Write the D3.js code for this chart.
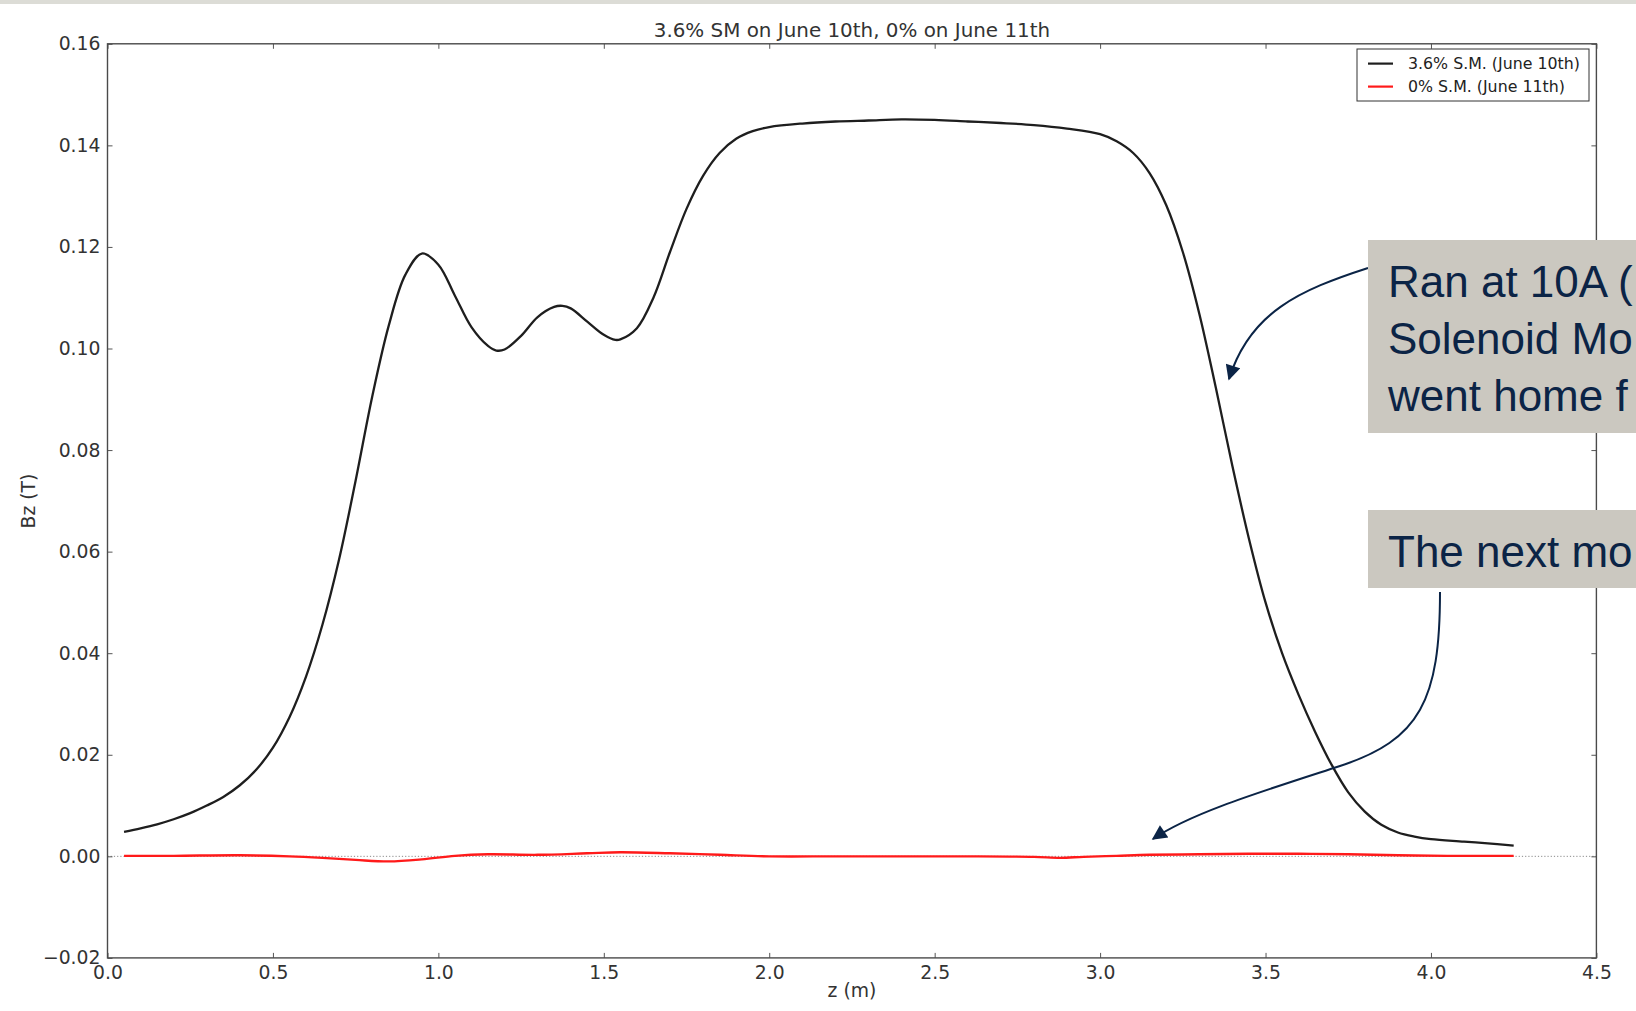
<!DOCTYPE html>
<html>
<head>
<meta charset="utf-8">
<script src="https://cdn.jsdelivr.net/npm/d3@7"></script>
<style>
  html, body { margin: 0; padding: 0; background: #ffffff; overflow: hidden; }
  svg { display: block; }
</style>
</head>
<body>
<svg id="chart" width="1636" height="1011"></svg>
<script>
// Axial field Bz along the solenoid, two runs
const titleText = "3.6% SM on June 10th, 0% on June 11th";
const seriesNames = ["3.6% S.M. (June 10th)", "0% S.M. (June 11th)"];
const xTicks = [0, 0.5, 1.0, 1.5, 2.0, 2.5, 3.0, 3.5, 4.0, 4.5];
const yTicks = [-0.02, 0, 0.02, 0.04, 0.06, 0.08, 0.10, 0.12, 0.14, 0.16];

// 3.6% solenoid-mode run (June 10th)
const zRun1 = [0.05, 0.10, 0.15, 0.20, 0.25, 0.30, 0.35, 0.40, 0.45, 0.50, 0.55, 0.60, 0.65, 0.70, 0.75, 0.80, 0.85, 0.90, 0.95,
  1.00, 1.05, 1.10, 1.15, 1.175, 1.20, 1.25, 1.30, 1.35, 1.375, 1.40, 1.45, 1.50, 1.535, 1.55, 1.60, 1.65, 1.70,
  1.75, 1.80, 1.85, 1.90, 1.95, 2.00, 2.10, 2.20, 2.30, 2.40, 2.50, 2.60, 2.70, 2.80, 2.90, 3.00,
  3.05, 3.10, 3.15, 3.20, 3.25, 3.30, 3.35, 3.40, 3.45, 3.50, 3.55, 3.60, 3.65, 3.70, 3.75, 3.80, 3.85,
  3.90, 3.95, 4.00, 4.10, 4.20, 4.25];
const bzRun1 = [0.0048, 0.0055, 0.0063, 0.0073, 0.0085, 0.0100, 0.0117, 0.0140, 0.0171, 0.0214, 0.0274, 0.0354, 0.0457, 0.0585, 0.0740, 0.0905, 0.1045, 0.1145, 0.1187,
  0.1165, 0.1104, 0.1042, 0.1005, 0.0996, 0.0998, 0.1025, 0.1062, 0.1082, 0.1084, 0.1079, 0.1053, 0.1027, 0.1017, 0.1018, 0.1040, 0.1100, 0.1190,
  0.1275, 0.1340, 0.1385, 0.1413, 0.1428, 0.1436, 0.1443, 0.1447, 0.1449, 0.1451, 0.1450, 0.1447, 0.1444, 0.1440, 0.1433, 0.1422,
  0.1408, 0.1385, 0.1345, 0.1282, 0.1190, 0.1068, 0.0922, 0.0768, 0.0625, 0.0500, 0.0400, 0.0318, 0.0245, 0.0180, 0.0126, 0.0088, 0.0062,
  0.0047, 0.0039, 0.0034, 0.0029, 0.0024, 0.0021];

// 0% solenoid-mode run (June 11th)
const zRun2 = [0.05, 0.20, 0.40, 0.55, 0.65, 0.75, 0.85, 0.95, 1.05, 1.15, 1.30, 1.45, 1.55, 1.70, 1.85, 2.00,
  2.20, 2.40, 2.60, 2.80, 2.88, 2.95, 3.05, 3.15, 3.30, 3.45, 3.60, 3.75, 3.90, 4.05, 4.25];
const bzRun2 = [0.0001, 0.0001, 0.0002, 0.0000, -0.0003, -0.0007, -0.0010, -0.0006, 0.0001, 0.0004, 0.0003, 0.0006, 0.0008, 0.0006, 0.0003, 0.0000,
  0.0000, 0.0000, 0.0000, -0.0001, -0.0003, -0.0001, 0.0001, 0.0003, 0.0004, 0.0005, 0.0005, 0.0004, 0.0002, 0.0001, 0.0001];

const calloutTop = ["Ran at 10A (", "Solenoid Mo", "went home f"];
const calloutBottom = ["The next mo"];

const svg = d3.select("#chart");
const W = 1636, H = 1011;
const plot = { left: 107.5, right: 1596.4, top: 43.8, bottom: 957.9 };
const tickFont = "'DejaVu Sans', sans-serif";
const navy = "#0b2446";

svg.append("rect").attr("width", W).attr("height", H).attr("fill", "#ffffff");
svg.append("rect").attr("x", 0).attr("y", 0).attr("width", W).attr("height", 4).attr("fill", "#dcdcd6");

const x = d3.scaleLinear().domain([0, 4.5]).range([plot.left, plot.right]);
const y = d3.scaleLinear().domain([-0.02, 0.16]).range([plot.bottom, plot.top]);

const fmtY = d3.format(".2f");
const fmtX = d3.format(".1f");

// zero reference line
svg.append("line")
  .attr("x1", x(0)).attr("x2", x(4.5))
  .attr("y1", y(0)).attr("y2", y(0))
  .attr("stroke", "#8a8a8a").attr("stroke-width", 1)
  .attr("stroke-dasharray", "1.2,2");

// curves
const line = d3.line().x(d => x(d[0])).y(d => y(d[1])).curve(d3.curveCatmullRom.alpha(0.5));
svg.append("path")
  .datum(zRun2.map((z, i) => [z, bzRun2[i]]))
  .attr("d", line).attr("fill", "none")
  .attr("stroke", "#ff1a1a").attr("stroke-width", 2.4).attr("stroke-linejoin", "round");
svg.append("path")
  .datum(zRun1.map((z, i) => [z, bzRun1[i]]))
  .attr("d", line).attr("fill", "none")
  .attr("stroke", "#1e1e1e").attr("stroke-width", 2.3).attr("stroke-linejoin", "round");

// axes with inward ticks on all four sides
const tickLen = 5;
const gx = svg.append("g").attr("transform", `translate(0,${plot.bottom})`)
  .call(d3.axisBottom(x).tickValues(xTicks).tickFormat(fmtX).tickSizeInner(-tickLen).tickSizeOuter(0).tickPadding(7));
const gy = svg.append("g").attr("transform", `translate(${plot.left},0)`)
  .call(d3.axisLeft(y).tickValues(yTicks).tickFormat(fmtY).tickSizeInner(-tickLen).tickSizeOuter(0).tickPadding(7));
const gt = svg.append("g").attr("transform", `translate(0,${plot.top})`)
  .call(d3.axisTop(x).tickValues(xTicks).tickFormat("").tickSizeInner(-tickLen).tickSizeOuter(0));
const gr = svg.append("g").attr("transform", `translate(${plot.right},0)`)
  .call(d3.axisRight(y).tickValues(yTicks).tickFormat("").tickSizeInner(-tickLen).tickSizeOuter(0));

[gx, gy, gt, gr].forEach(g => {
  g.select(".domain").remove();
  g.selectAll(".tick line").attr("stroke", "#555").attr("stroke-width", 1);
  g.selectAll("text").attr("font-family", tickFont).attr("font-size", 18.8).attr("fill", "#333");
});
gx.selectAll(".tick text").attr("dy", "0.75em");

// plot frame
svg.append("rect")
  .attr("x", plot.left).attr("y", plot.top)
  .attr("width", plot.right - plot.left).attr("height", plot.bottom - plot.top)
  .attr("fill", "none").attr("stroke", "#4a4a4a").attr("stroke-width", 1.4);

// title and axis labels
svg.append("text").attr("x", (plot.left + plot.right) / 2).attr("y", 37)
  .attr("text-anchor", "middle").attr("font-family", tickFont).attr("font-size", 19.9).attr("fill", "#333")
  .text(titleText);
svg.append("text").attr("x", (plot.left + plot.right) / 2).attr("y", 997)
  .attr("text-anchor", "middle").attr("font-family", tickFont).attr("font-size", 18.8).attr("fill", "#333")
  .text("z (m)");
svg.append("text").attr("transform", "translate(35,501) rotate(-90)")
  .attr("text-anchor", "middle").attr("font-family", tickFont).attr("font-size", 18.8).attr("fill", "#333")
  .text("Bz (T)");

// legend
const leg = svg.append("g");
leg.append("rect").attr("x", 1357).attr("y", 49).attr("width", 232).attr("height", 52)
  .attr("fill", "#ffffff").attr("stroke", "#333").attr("stroke-width", 1);
const legColors = ["#1e1e1e", "#ff1a1a"];
seriesNames.forEach((name, i) => {
  const ly = 63.6 + i * 23;
  leg.append("line").attr("x1", 1368).attr("x2", 1393).attr("y1", ly).attr("y2", ly)
    .attr("stroke", legColors[i]).attr("stroke-width", 2.2);
  leg.append("text").attr("x", 1408).attr("y", ly).attr("dy", "0.36em")
    .attr("font-family", tickFont).attr("font-size", 15.8).attr("fill", "#222").text(name);
});

// callout arrows
const defs = svg.append("defs");
defs.append("marker").attr("id", "arrowhead")
  .attr("viewBox", "0 0 10 10").attr("refX", 9).attr("refY", 5)
  .attr("markerUnits", "userSpaceOnUse").attr("markerWidth", 17).attr("markerHeight", 15)
  .attr("orient", "auto")
  .append("path").attr("d", "M0,0 L10,5 L0,10 Z").attr("fill", navy);

const p1 = d3.path();
p1.moveTo(1368, 268);
p1.bezierCurveTo(1300, 290, 1250, 312, 1229, 379);
svg.append("path").attr("d", p1.toString()).attr("fill", "none")
  .attr("stroke", navy).attr("stroke-width", 2).attr("marker-end", "url(#arrowhead)");

const p2 = d3.path();
p2.moveTo(1440, 592);
p2.bezierCurveTo(1440, 700, 1420, 740, 1340, 766);
p2.bezierCurveTo(1260, 792, 1191, 813, 1153, 839);
svg.append("path").attr("d", p2.toString()).attr("fill", "none")
  .attr("stroke", navy).attr("stroke-width", 2).attr("marker-end", "url(#arrowhead)");

// callout boxes
const calloutFont = "'Liberation Sans', Arial, sans-serif";
svg.append("rect").attr("x", 1368).attr("y", 240).attr("width", W - 1368).attr("height", 193).attr("fill", "#cbc8c0");
calloutTop.forEach((t, i) => {
  svg.append("text").attr("x", 1388).attr("y", 297 + i * 57)
    .attr("font-family", calloutFont).attr("font-size", 44).attr("fill", navy).text(t);
});
svg.append("rect").attr("x", 1368).attr("y", 510).attr("width", W - 1368).attr("height", 78).attr("fill", "#cbc8c0");
calloutBottom.forEach((t, i) => {
  svg.append("text").attr("x", 1388).attr("y", 567 + i * 57)
    .attr("font-family", calloutFont).attr("font-size", 44).attr("fill", navy).text(t);
});
</script>
</body>
</html>
